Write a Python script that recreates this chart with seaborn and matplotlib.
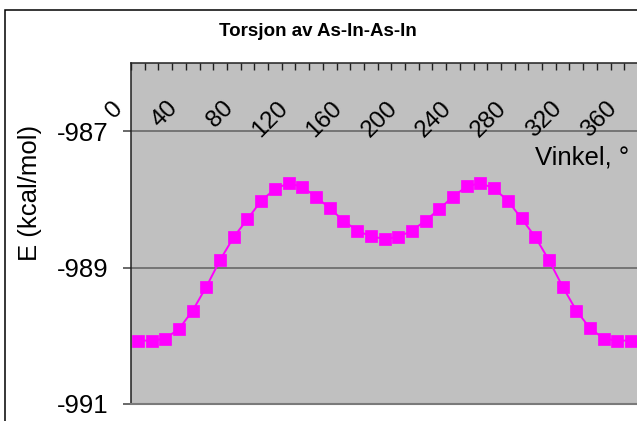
import numpy as np
import pandas as pd
import matplotlib
matplotlib.use("Agg")
import matplotlib.pyplot as plt
import matplotlib.patches as patches
import seaborn as sns

# ---- data ----
angles = list(range(0, 361, 10))
energy = [-990.07, -990.07, -990.04, -989.90, -989.63, -989.28, -988.89, -988.55,
          -988.29, -988.02, -987.85, -987.76, -987.82, -987.96, -988.13, -988.31,
          -988.46, -988.54, -988.58, -988.55, -988.46, -988.31, -988.14, -987.96,
          -987.81, -987.76, -987.84, -988.02, -988.28, -988.55, -988.89, -989.28,
          -989.63, -989.89, -990.04, -990.07, -990.07]
x_labels = [0, 40, 80, 120, 160, 200, 240, 280, 320, 360]
y_ticks = [-987, -989, -991]

title = "Torsjon av As-In-As-In"
x_title = "Vinkel, °"
y_title = "E (kcal/mol)"

df = pd.DataFrame({"angle": angles, "E": energy})

sns.set_style("white")
plt.rcParams["font.family"] = ["Liberation Sans", "DejaVu Sans"]
plt.rcParams["text.color"] = "black"
plt.rcParams["xtick.color"] = "black"
plt.rcParams["ytick.color"] = "black"
plt.rcParams["axes.labelcolor"] = "black"

W, H = 637, 421
fig = plt.figure(figsize=(W / 100, H / 100), dpi=100)
fig.patch.set_facecolor("white")

left, right, top, bottom = 131, 638, 63, 404
ax = fig.add_axes([left / W, 1 - bottom / H, (right - left) / W, (bottom - top) / H])
ax.set_facecolor("#C0C0C0")

sns.lineplot(data=df, x="angle", y="E", ax=ax, color="#FF00FF", marker="s",
             markersize=8.2, markeredgecolor="#FF00FF", markeredgewidth=0.5,
             linewidth=1.4, zorder=4)

ax.set_xlim(-5, 365)
ax.set_ylim(-991, -986)

# y axis
ax.set_yticks(y_ticks)
ax.set_yticklabels([str(v) for v in y_ticks], fontsize=18.5, color="black")
ax.tick_params(axis="y", direction="out", length=6, width=1.1, color="#404040",
               pad=10.5, left=True)
ax.yaxis.grid(True, color="#606060", linewidth=1.1, zorder=1)
ax.set_axisbelow(True)

# x axis: ticks at category boundaries on top, pointing in
ax.xaxis.tick_top()
ax.set_xticks(np.arange(-5, 366, 10))
ax.set_xticklabels([])
ax.tick_params(axis="x", direction="in", length=5, width=1.0, color="#202020",
               top=True, bottom=False)

for v in x_labels:
    ax.annotate(str(v), xy=(v, 1), xycoords=("data", "axes fraction"),
                xytext=(-18, -42), textcoords="offset pixels",
                rotation=45, rotation_mode="anchor", ha="right", va="center",
                fontsize=17.5, color="black", zorder=5)

ax.set_xlabel("")
ax.set_ylabel("")

for s in ["left", "top"]:
    ax.spines[s].set_color("#202020")
    ax.spines[s].set_linewidth(1.1)
ax.spines["right"].set_visible(False)
ax.spines["bottom"].set_color("#7a7a7a")
ax.spines["bottom"].set_linewidth(1.5)

# texts
fig.text(318 / W, 1 - 32 / H, title, ha="center", va="center",
         fontsize=13.5, fontweight="bold", color="black")
fig.text(535 / W, 1 - 165 / H, x_title, ha="left", va="baseline", fontsize=18.5,
         color="black")
fig.text(30 / W, 1 - 193 / H, y_title, ha="center", va="center",
         rotation=90, fontsize=18.5, color="black")

# chart border
rect = patches.Rectangle((5 / W, -0.2), 2.0, 1 - 10 / H + 0.2, transform=fig.transFigure,
                         fill=False, edgecolor="black", linewidth=1.1, clip_on=False)
fig.add_artist(rect)

fig.savefig("out.png", dpi=100)
